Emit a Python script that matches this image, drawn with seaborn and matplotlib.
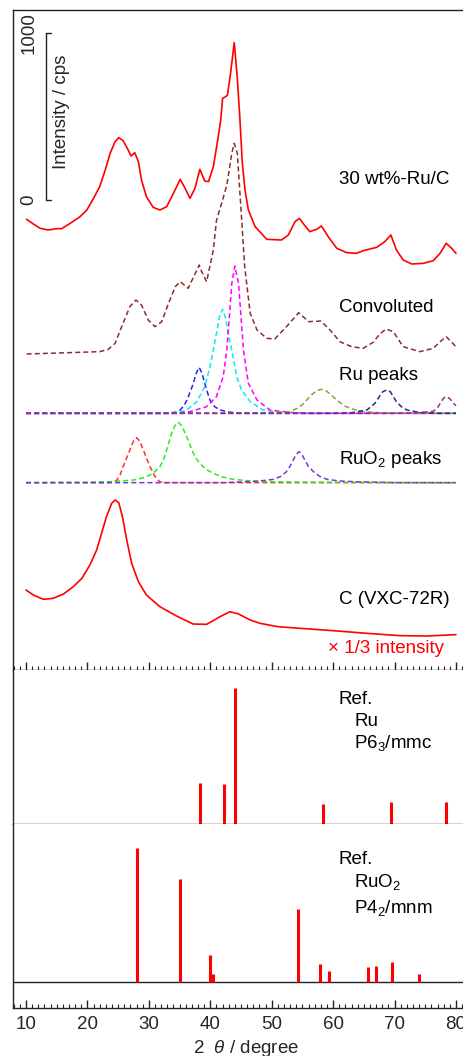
import numpy as np
import seaborn as sns
import matplotlib
matplotlib.use('Agg')
import matplotlib.pyplot as plt
from matplotlib.ticker import MultipleLocator

# ---- measured XRD pattern, 30 wt%-Ru/C (cps above its own baseline)
tt_ruc = [10.1, 11.2, 12.3, 13.6, 15.0, 15.8, 17.2, 18.8, 19.9, 21.0,
          22.0, 22.9, 23.7, 24.5, 25.1, 25.8, 26.5, 27.1, 27.7, 28.3,
          28.8, 29.6, 30.7, 31.8, 32.9, 34.0, 35.1, 35.9, 36.7, 37.5,
          38.3, 39.1, 39.7, 40.5, 41.3, 41.7, 42.0, 42.5, 42.8, 43.3,
          43.9, 44.4, 44.8, 45.2, 45.65, 46.2, 47.3, 49.2, 51.6, 52.7,
          53.8, 54.5, 55.1, 56.2, 57.3, 58.1, 59.2, 60.6, 62.2, 63.8,
          64.9, 67.1, 68.4, 69.4, 70.3, 71.4, 72.8, 74.7, 76.3, 77.4,
          78.4, 79.3, 80.0]
i_ruc = [304, 276, 250, 240, 248, 248, 280, 320, 360, 430,
         500, 600, 700, 770, 794, 776, 730, 684, 704, 650,
         540, 440, 376, 360, 380, 460, 544, 490, 430, 490,
         604, 534, 530, 620, 800, 900, 1030, 1040, 1050, 1180,
         1364, 1150, 920, 650, 480, 360, 260, 184, 180, 210,
         290, 310, 280, 230, 244, 264, 200, 130, 104, 100,
         116, 136, 170, 210, 120, 60, 36, 40, 56, 100,
         160, 130, 100]

# ---- convoluted fit
tt_conv = [10.1, 22.0, 23.4, 24.5, 25.8, 26.9, 27.9, 28.8, 29.9, 31.0,
           32.1, 33.2, 34.3, 35.1, 36.4, 37.3, 38.2, 38.6, 39.4, 40.5,
           41.0, 42.0, 42.7, 43.5, 43.9, 44.4, 44.9, 45.6, 46.5, 47.6,
           49.2, 50.5, 52.4, 54.4, 56.0, 58.0, 59.5, 61.1, 63.0, 64.9,
           66.5, 67.6, 68.6, 69.8, 71.4, 74.1, 76.3, 77.6, 78.4, 80.0]
i_conv = [0, 14, 28, 64, 184, 284, 324, 294, 204, 164,
          194, 304, 404, 434, 394, 464, 534, 494, 434, 624,
          800, 924, 1014, 1204, 1264, 1204, 924, 524, 244, 144,
          94, 90, 164, 248, 194, 198, 144, 74, 44, 34,
          70, 120, 150, 134, 44, 14, 34, 80, 104, 44]

# ---- Ru component peaks
tt_ru1 = [10, 33, 34.5, 35.1, 35.7, 36.2, 36.8, 37.24, 37.7, 38.2, 38.7, 39.1, 39.5, 39.95, 40.7, 41.6, 43.0, 44.3, 46, 80]
i_ru1 = [0, 0, 8, 20, 45, 80, 135, 180, 240, 276, 235, 180, 130, 80, 40, 20, 8, 2, 0, 0]
tt_ru2 = [10, 33, 35, 36.2, 37.8, 39.1, 39.95, 40.5, 41.0, 41.5, 42.0, 42.5, 42.9, 43.5, 44.3, 45.1, 46.5, 48.6, 51, 55, 80]
i_ru2 = [0, 0, 8, 20, 70, 160, 280, 380, 480, 580, 624, 570, 480, 380, 220, 140, 70, 20, 6, 0, 0]
tt_ru3 = [10, 34, 36.7, 39.4, 41.0, 42.1, 42.7, 43.1, 43.5, 44.0, 44.6, 45.0, 45.4, 46.2, 47.6, 49.7, 53, 56, 80]
i_ru3 = [0, 0, 10, 40, 100, 220, 380, 580, 780, 884, 780, 580, 380, 180, 80, 20, 5, 0, 0]
tt_ru4 = [10, 46, 50, 53.0, 54.1, 55.0, 55.7, 56.6, 57.4, 58.1, 58.9, 59.7, 60.6, 61.8, 63.3, 64.9, 68, 72, 80]
i_ru4 = [0, 0, 4, 10, 30, 52, 80, 115, 138, 144, 134, 110, 80, 45, 24, 10, 3, 0, 0]
tt_ru5 = [10, 60, 63, 65.5, 66.8, 67.6, 68.1, 68.7, 69.3, 69.8, 70.3, 71.1, 72.0, 74, 77, 80]
i_ru5 = [0, 0, 4, 20, 60, 105, 130, 140, 130, 100, 70, 40, 20, 6, 0, 0]
tt_ru6 = [10, 70, 74, 76.3, 77.1, 77.6, 78.0, 78.5, 79.0, 79.6, 80.0]
i_ru6 = [0, 0, 4, 12, 40, 70, 92, 100, 88, 60, 45]

# ---- RuO2 component peaks
tt_ox1 = [10, 23.5, 24.2, 24.8, 25.3, 25.8, 26.4, 26.9, 27.5, 28.0, 28.5, 29.1, 29.7, 30.2, 30.8, 31.3, 31.8, 32.6, 80]
i_ox1 = [0, 0, 4, 16, 45, 96, 150, 196, 250, 270, 250, 196, 140, 96, 50, 20, 6, 0, 0]
tt_ox2 = [10, 20, 23.7, 27.5, 29.0, 30.2, 31.0, 31.8, 32.4, 32.9, 33.3, 33.7, 34.2, 34.8,
          35.4, 35.9, 36.5, 37.0, 37.6, 38.3, 39.3, 40.5, 42.0, 43.7, 46.0, 49.2, 55, 80]
i_ox2 = [0, 3, 6, 16, 28, 46, 66, 96, 140, 196, 246, 296, 340, 362,
         340, 296, 246, 196, 150, 116, 80, 56, 34, 20, 12, 6, 3, 0]
tt_ox3 = [10, 42, 46.5, 48.5, 50.3, 51.5, 52.4, 53.0, 53.5, 54.0, 54.45, 54.9, 55.4, 56.0, 56.8, 57.8, 59.0, 61, 64, 70, 80]
i_ox3 = [0, 0, 6, 12, 20, 38, 66, 100, 136, 170, 186, 170, 136, 96, 66, 38, 20, 10, 5, 0, 0]

# ---- carbon support (x 1/3 intensity)
tt_c = [10.0, 11.2, 12.8, 14.4, 16.1, 17.7, 19.1, 20.4, 21.5, 22.3,
        23.1, 23.95, 24.5, 25.1, 25.7, 26.4, 27.2, 28.3, 29.6, 31.8,
        34.5, 37.2, 39.4, 41.6, 43.2, 44.6, 46.5, 48.1, 51.0, 54.6,
        60.0, 65.5, 70.9, 75.2, 80.0]
i_c = [300, 270, 244, 250, 276, 320, 370, 450, 540, 640,
       740, 820, 840, 824, 740, 600, 460, 350, 270, 200,
       144, 96, 94, 140, 170, 156, 120, 100, 80, 70,
       56, 40, 26, 24, 32]

# ---- reference patterns (relative intensity)
ref_ru_tt = [38.4, 42.2, 44.0, 58.3, 69.4, 78.4]
ref_ru_int = [30, 29, 100, 15, 16, 16]
ref_ruo2_tt = [28.0, 35.0, 40.0, 40.5, 54.2, 57.9, 59.4, 65.6, 66.9, 69.6, 74.0]
ref_ruo2_int = [100, 77, 20, 6, 54, 13, 8, 11, 12, 15, 6]

# stacking offsets (cps)
OFF_RUC, OFF_CONV, OFF_RU, OFF_OX, OFF_C = 2400, 1896, 1540, 1124, 180

sns.set_style('ticks')
plt.rcParams['font.family'] = ['Liberation Sans', 'DejaVu Sans']
plt.rcParams['mathtext.fontset'] = 'custom'
plt.rcParams['mathtext.rm'] = 'Liberation Sans'
plt.rcParams['mathtext.it'] = 'Liberation Sans:italic'
FS = 13.5

W, H = 463, 1056
PX_DEG = 430 / 70
XMIN, XMAX = 7.884, 82.0

fig = plt.figure(figsize=(W / 100, H / 100), dpi=100)

def make_ax(top, bottom):
    width = (XMAX - XMIN) * PX_DEG / W
    return fig.add_axes([13 / W, 1 - bottom / H, width, (bottom - top) / H])

ax1 = make_ax(10, 670)
ax2 = make_ax(670, 824)
ax3 = make_ax(824, 1008)

for ax in (ax1, ax2, ax3):
    ax.set_xlim(XMIN, XMAX)
    ax.set_yticks([])
    for s in ax.spines.values():
        s.set_linewidth(1.0)
        s.set_color('#222222')
    ax.spines['right'].set_visible(False)
    ax.xaxis.set_major_locator(MultipleLocator(10))
    ax.xaxis.set_minor_locator(MultipleLocator(1))
    ax.tick_params(axis='x', which='major', direction='in', length=6, width=1.0, color='#222222')
    ax.tick_params(axis='x', which='minor', direction='in', length=3, width=0.8, color='#222222')
    ax.set_xlabel('')
    ax.set_ylabel('')

ax1.set_ylim(0, 3960)
ax1.tick_params(axis='x', which='both', labelbottom=False)
ax2.spines['top'].set_visible(False)
ax2.tick_params(axis='x', which='both', bottom=False, labelbottom=False)
ax3.spines['top'].set_visible(False)
ax3.tick_params(axis='x', which='major', labelsize=FS, pad=5.5)

dash = (0, (3.3, 2.0))
lw_d = 1.1

def curve(tt, inten, off, color, ls='-', lw=1.2):
    sns.lineplot(x=np.asarray(tt, float), y=np.asarray(inten, float) + off, ax=ax1,
                 color=color, linestyle=ls, linewidth=lw, estimator=None, sort=False)

curve(tt_ruc, i_ruc, OFF_RUC, '#ff0000')
curve(tt_conv, i_conv, OFF_CONV, '#8b2e2e', dash, lw_d)

ru_parts = [(tt_ru1, i_ru1, '#2323ff'), (tt_ru2, i_ru2, '#00f0f0'), (tt_ru3, i_ru3, '#ff00ff'),
            (tt_ru4, i_ru4, '#9a9a30'), (tt_ru5, i_ru5, '#25259a'), (tt_ru6, i_ru6, '#9a2a9a')]
for tt, inten, col in ru_parts:
    curve(tt, inten, OFF_RU, col, dash, lw_d)

ox_parts = [(tt_ox1, i_ox1, '#ff3030'), (tt_ox2, i_ox2, '#22ee22'), (tt_ox3, i_ox3, '#7a35dd')]
for tt, inten, col in ox_parts:
    curve(tt, inten, OFF_OX, col, dash, lw_d)

curve(tt_c, i_c, OFF_C, '#ff0000')

# intensity scale bar (0 - 1000 cps)
bar_x, bar_y0 = 13.26, 2820
ax1.plot([bar_x, bar_x], [bar_y0, bar_y0 + 1000], color='#222222', lw=1.0)
ax1.plot([bar_x, bar_x + 0.85], [bar_y0, bar_y0], color='#222222', lw=1.0)
ax1.plot([bar_x, bar_x + 0.85], [bar_y0 + 1000, bar_y0 + 1000], color='#222222', lw=1.0)
ax1.text(10.5, bar_y0, '0', rotation=90, ha='center', va='center', fontsize=FS)
ax1.text(10.5, bar_y0 + 1000, '1000', rotation=90, ha='center', va='center', fontsize=FS)
ax1.text(15.75, 3348, 'Intensity / cps', rotation=90, ha='center', va='center', fontsize=FS)

def label(x, y, s, color='black'):
    fig.text(x / W, 1 - y / H, s, fontsize=FS, color=color, ha='left', va='baseline')

label(339, 183.5, '30 wt%-Ru/C')
label(339, 311.5, 'Convoluted')
label(339, 380, 'Ru peaks')
label(339, 464, r'RuO$_\mathrm{2}$ peaks')
label(339, 604.5, 'C (VXC-72R)')
label(328, 653, '\u00d7 1/3 intensity', color='#ff0000')

# reference stick patterns
ax2.set_ylim(0, 113)
ax2.vlines(ref_ru_tt, 0, ref_ru_int, color='#ff0000', lw=2.2)
ax3.set_ylim(-19.4, 117.6)
ax3.axhline(0, color='#222222', lw=1.0)
ax3.vlines(ref_ruo2_tt, 0, ref_ruo2_int, color='#ff0000', lw=2.2)

label(339, 704.5, 'Ref.')
label(354.5, 726, 'Ru')
label(354.5, 748, r'P6$_\mathrm{3}$/mmc')
label(339, 864, 'Ref.')
label(354.5, 887, r'RuO$_\mathrm{2}$')
label(354.5, 913.5, r'P4$_\mathrm{2}$/mnm')

ax3.set_xlabel(r'2  $\theta$ / degree', fontsize=FS)
ax3.xaxis.set_label_coords((45.8 - XMIN) / (XMAX - XMIN), (1008 - 1038) / 184)

fig.savefig('out.png', dpi=100)
